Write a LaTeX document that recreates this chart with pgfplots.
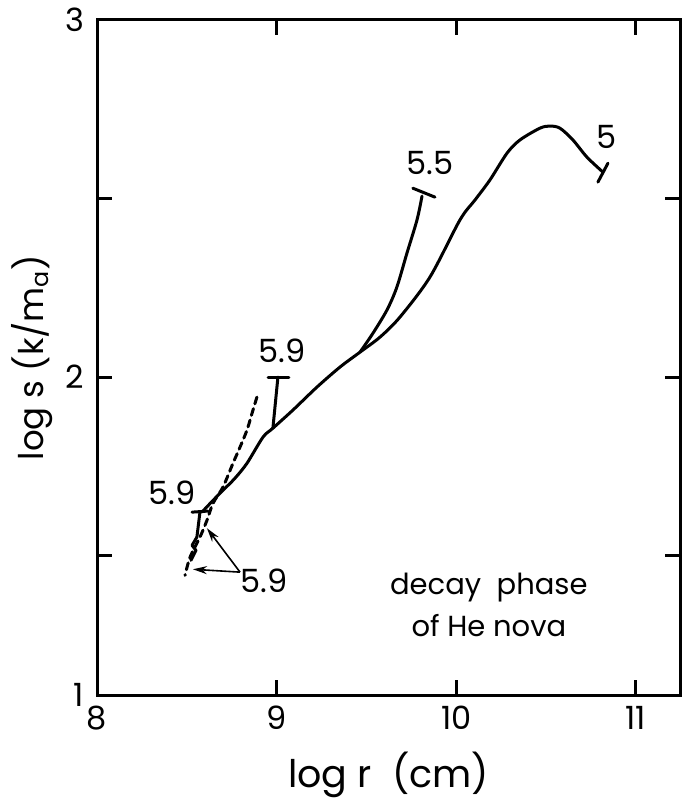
\documentclass[border=0pt]{standalone}
\usepackage{fontspec}
\setmainfont{Poppins}
\usepackage{pgfplots}
\pgfplotsset{compat=1.18}
\usetikzlibrary{arrows.meta}

\begin{document}
\begin{tikzpicture}
  \begin{axis}[
      scale only axis,
      width=291.5pt, height=337.5pt,
      xmin=8, xmax=11.245,
      ymin=1.11, ymax=3,
      xtick={8,9,10,11},
      xticklabels={8,9,10,11},
      ytick={1.11,1.5,2,2.5,3},
      yticklabels={1,,2,,3},
      /pgf/number format/assume math mode=true,
      tick align=inside,
      major tick length=7.5pt,
      axis line style={line width=1.5pt},
      every tick/.style={line width=1.5pt, black},
      ticklabel style={font=\fontsize{16}{18}\selectfont},
      yticklabel style={xshift=-3pt},
      xticklabel style={yshift=-2pt},
      xlabel={log\ r\ \ (cm)},
      ylabel={log s (k/m\textsubscript{a})},
      xlabel style={font=\fontsize{19}{22}\selectfont,
        at={(axis description cs:0.5,-0.118)}, anchor=center},
      ylabel style={font=\fontsize{17}{20}\selectfont,
        at={(axis description cs:-0.112,0.5)}, anchor=center},
      clip=false,
      every axis plot/.append style={line width=1.5pt, line cap=round, line join=round},
    ]
    % main track, ends at 5
    \addplot[black, smooth, tension=0.5] coordinates {
      (8.584,1.622) (8.646,1.655) (8.701,1.683) (8.768,1.717) (8.835,1.759)
      (8.924,1.832) (8.979,1.857) (9.091,1.908) (9.224,1.972) (9.352,2.028)
      (9.464,2.070) (9.575,2.112) (9.686,2.168) (9.853,2.280) (10.020,2.440)
      (10.104,2.496) (10.187,2.552) (10.282,2.627) (10.354,2.664) (10.465,2.697)
      (10.521,2.703) (10.577,2.697) (10.649,2.664) (10.727,2.616) (10.816,2.574)
    };
    \addplot[black] coordinates {(10.788,2.546) (10.844,2.599)};
    % branch to 5.5
    \addplot[black, smooth, tension=0.5] coordinates {
      (9.464,2.070) (9.536,2.123) (9.614,2.188) (9.669,2.252)
      (9.725,2.347) (9.781,2.440) (9.809,2.507)
    };
    \addplot[black] coordinates {(9.758,2.529) (9.881,2.504)};
    % upper 5.9
    \addplot[black] coordinates {(8.979,1.857) (9.007,2.000)};
    \addplot[black] coordinates {(8.952,2.000) (9.068,2.000)};
    % lower 5.9
    \addplot[black] coordinates {
      (8.573,1.622) (8.556,1.552) (8.529,1.529) (8.551,1.515) (8.523,1.487)
    };
    \addplot[black] coordinates {(8.529,1.622) (8.618,1.625)};
    % dashed track
    \addplot[black, smooth, tension=0.5, dash pattern=on 3.5pt off 2.5pt] coordinates {
      (8.890,1.944) (8.863,1.899) (8.835,1.852) (8.796,1.804) (8.757,1.759)
      (8.701,1.692) (8.646,1.647) (8.612,1.599) (8.573,1.552) (8.518,1.496)
      (8.490,1.445)
    };
    % arrows
    \draw[line width=0.8pt, -{Stealth[length=7pt,width=4pt]}]
      (axis cs:8.796,1.454) -- (axis cs:8.612,1.577);
    \draw[line width=0.8pt, -{Stealth[length=7pt,width=4pt]}]
      (axis cs:8.796,1.454) -- (axis cs:8.534,1.462);
    % labels
    \begin{scope}[every node/.style={font=\fontsize{16}{18}\selectfont}]
      \node at (axis cs:9.029,2.073) {5.9};
      \node at (axis cs:8.417,1.675) {5.9};
      \node at (axis cs:9.853,2.599) {5.5};
      \node at (axis cs:10.838,2.672) {5};
      \node at (axis cs:8.929,1.431) {5.9};
    \end{scope}
    \node[align=center, font=\fontsize{14.5}{21}\selectfont] at (axis cs:10.181,1.362)
      {decay\ \ phase\\of\ He\ nova};
  \end{axis}
  \pgfresetboundingbox
  \path[use as bounding box]
    ([shift={(-48.5pt,-55.5pt)}]current axis.south west)
    rectangle ([shift={(4pt,10pt)}]current axis.north east);
\end{tikzpicture}
\end{document}
